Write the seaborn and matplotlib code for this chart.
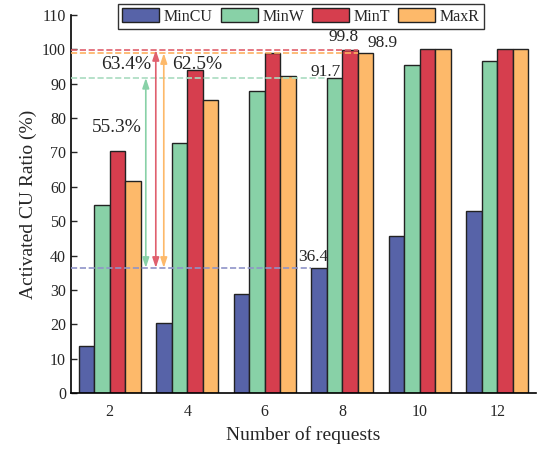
import matplotlib
matplotlib.use("Agg")
import matplotlib.pyplot as plt
import seaborn as sns
import pandas as pd

requests = ["2", "4", "6", "8", "10", "12"]
methods = ["MinCU", "MinW", "MinT", "MaxR"]
min_cu = [13.8, 20.5, 28.7, 36.4, 45.8, 53.0]
min_w = [54.7, 72.8, 88.0, 91.7, 95.3, 96.7]
min_t = [70.4, 94.0, 99.0, 99.8, 100.0, 100.0]
max_r = [61.7, 85.2, 92.3, 98.9, 100.0, 100.0]
colors = ["#5763A8", "#88D1A7", "#D63E4E", "#FDB96A"]

rows = []
for m, vals in zip(methods, [min_cu, min_w, min_t, max_r]):
    for r, v in zip(requests, vals):
        rows.append({"req": r, "method": m, "val": v})
df = pd.DataFrame(rows)

sns.set_style("ticks")
plt.rcParams["font.family"] = ["Liberation Serif", "DejaVu Serif"]

fig = plt.figure(figsize=(5.46, 4.5), dpi=100)
ax = fig.add_axes([0.130, 0.1267, 0.852, 0.84])

sns.barplot(data=df, x="req", y="val", hue="method", order=requests,
            hue_order=methods, palette=colors, saturation=1, width=0.8,
            edgecolor="#222222", linewidth=1.0, ax=ax, legend=True)

ax.set_xlim(-0.5, 5.5)
ax.set_ylim(0, 110)
ax.set_yticks(range(0, 111, 10))
ax.tick_params(axis="both", direction="in", labelsize=11.5, length=4, width=1)
ax.tick_params(axis="x", length=0, pad=8)
ax.set_xlabel("Number of requests", fontsize=14)
ax.set_ylabel("Activated CU Ratio (%)", fontsize=14)
for s in ["top", "right"]:
    ax.spines[s].set_visible(False)
for s in ["left", "bottom"]:
    ax.spines[s].set_linewidth(1.2)
    ax.spines[s].set_color("black")

# reference dashed lines
base = min_cu[3]
ax.plot([-0.5, 2.6], [base, base], ls="--", color="#8f94c8", lw=1.2, zorder=5)
ax.plot([-0.5, 2.8], [min_w[3], min_w[3]], ls="--", color="#a9dcc0", lw=1.2, zorder=5)
ax.plot([-0.5, 3.2], [min_t[3], min_t[3]], ls="--", color="#e0606e", lw=1.2, zorder=5)
ax.plot([-0.5, 3.2], [max_r[3], max_r[3]], ls="--", color="#fdb060", lw=1.2, zorder=5)

# arrows
for xpos, top, c in [(0.465, min_w[3], "#88D1A7"), (0.594, min_t[3], "#e0606e"),
                     (0.697, max_r[3], "#FDB96A")]:
    ax.annotate("", xy=(xpos, top), xytext=(xpos, base),
                arrowprops=dict(arrowstyle="<|-|>,head_length=0.6,head_width=0.2",
                                color=c, lw=1.2, mutation_scale=10,
                                shrinkA=0, shrinkB=0), zorder=6)

fs = 14
ax.text(0.09, 77.4, f"{min_w[3]-base:.1f}%", ha="center", va="center", fontsize=fs)
ax.text(0.21, 95.5, f"{min_t[3]-base:.1f}%", ha="center", va="center", fontsize=fs)
ax.text(1.13, 95.5, f"{max_r[3]-base:.1f}%", ha="center", va="center", fontsize=fs)
ax.text(2.62, 39.5, f"{min_cu[3]:.1f}", ha="center", va="center", fontsize=12.5, zorder=7)
ax.text(2.78, 93.4, f"{min_w[3]:.1f}", ha="center", va="center", fontsize=12.5, zorder=7)
ax.text(3.02, 103.6, f"{min_t[3]:.1f}", ha="center", va="center", fontsize=12.5)
ax.text(3.52, 101.9, f"{max_r[3]:.1f}", ha="center", va="center", fontsize=12.5)

leg = ax.legend(loc="upper center", bbox_to_anchor=(301/546, 1 - 4/450),
                bbox_transform=fig.transFigure, ncol=4, frameon=True,
                fancybox=False, edgecolor="black", fontsize=11.5,
                handlelength=2.3, handleheight=1.0, columnspacing=0.5,
                handletextpad=0.3, borderpad=0.25, borderaxespad=0)
leg.get_frame().set_linewidth(1.0)
leg.set_title(None)

fig.savefig("out.png", dpi=100)
